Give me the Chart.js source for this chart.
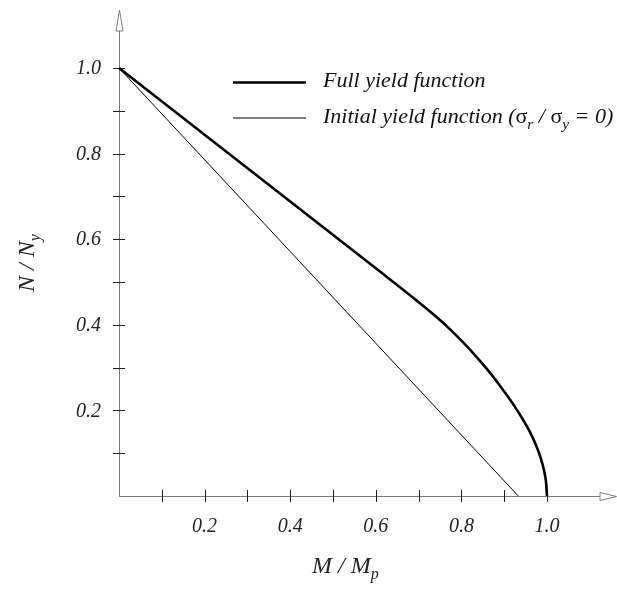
<!DOCTYPE html>
<html>
<head>
<meta charset="utf-8">
<title>Yield functions</title>
<script src="https://cdn.jsdelivr.net/npm/chart.js@4/dist/chart.umd.min.js"></script>
<style>
  html, body { margin: 0; padding: 0; background: #fff; }
  #wrap { width: 617px; height: 590px; }
</style>
</head>
<body>
<div id="wrap"><canvas id="chart" width="617" height="590"></canvas></div>
<script>
// --- Data ---

const fullM = [0, 0.2, 0.4, 0.6, 0.7, 0.74, 0.773, 0.803, 0.831, 0.857, 0.881, 0.903, 0.924, 0.943, 0.96, 0.974, 0.985, 0.993, 0.998, 1.0];
const fullN = [1.0, 0.844, 0.688, 0.532, 0.453, 0.42, 0.39, 0.36, 0.33, 0.30, 0.27, 0.24, 0.21, 0.18, 0.15, 0.12, 0.09, 0.06, 0.03, 0];

const initM = [0, 0.933];
const initN = [1.0, 0];

const tickValues = [0.1, 0.2, 0.3, 0.4, 0.5, 0.6, 0.7, 0.8, 0.9, 1.0];
const labelValues = [0.2, 0.4, 0.6, 0.8, 1.0];
const tickLabels = ["0.2", "0.4", "0.6", "0.8", "1.0"];

const seriesNames = ["Full yield function", "Initial yield function"];

const SERIF = '"Liberation Serif", "DejaVu Serif", serif';
const AXIS_GRAY = "#7a7a7a";

function $(id) {
  return document.getElementById(id);
}

function toPoints(xs, ys) {
  return xs.map((x, i) => ({ x: x, y: ys[i] }));
}

// draws pieces of text one after another; pieces can be subscripts
function drawRuns(ctx, runs, x, y) {
  runs.forEach(r => {
    ctx.font = r.font;
    ctx.fillText(r.text, x, y + (r.dy || 0));
    x += ctx.measureText(r.text).width;
  });
  return x;
}

// --- Axes, arrows, ticks ---

const axesPlugin = {
  id: "axesPlugin",
  beforeDatasetsDraw(chart) {
    const ctx = chart.ctx;
    const xs = chart.scales.x;
    const ys = chart.scales.y;
    const x0 = xs.getPixelForValue(0);
    const y0 = ys.getPixelForValue(0);
    const area = chart.chartArea;

    ctx.save();
    ctx.lineWidth = 1;
    ctx.strokeStyle = AXIS_GRAY;

    // axis lines
    ctx.beginPath();
    ctx.moveTo(x0 + 0.5, y0);
    ctx.lineTo(x0 + 0.5, area.top + 20);
    ctx.moveTo(x0, y0 + 0.5);
    ctx.lineTo(area.right - 16, y0 + 0.5);
    ctx.stroke();

    // open arrow heads
    ctx.fillStyle = "#fff";
    ctx.beginPath();
    ctx.moveTo(x0 + 0.5, area.top);
    ctx.lineTo(x0 + 4, area.top + 21);
    ctx.lineTo(x0 - 3, area.top + 21);
    ctx.closePath();
    ctx.fill();
    ctx.stroke();

    ctx.beginPath();
    ctx.moveTo(area.right - 0.5, y0 + 0.5);
    ctx.lineTo(area.right - 17, y0 + 4.5);
    ctx.lineTo(area.right - 17, y0 - 3.5);
    ctx.closePath();
    ctx.fill();
    ctx.stroke();

    // tick marks crossing the axes
    ctx.strokeStyle = "#222";
    ctx.beginPath();
    tickValues.forEach(v => {
      const px = Math.round(xs.getPixelForValue(v)) + 0.5;
      ctx.moveTo(px, y0 - 6);
      ctx.lineTo(px, y0 + 6);
      const py = Math.round(ys.getPixelForValue(v)) + 0.5;
      ctx.moveTo(x0 - 6, py);
      ctx.lineTo(x0 + 6, py);
    });
    ctx.stroke();
    ctx.restore();
  },

  afterDraw(chart) {
    const ctx = chart.ctx;
    const xs = chart.scales.x;
    const ys = chart.scales.y;
    const x0 = xs.getPixelForValue(0);
    const y0 = ys.getPixelForValue(0);

    ctx.save();
    ctx.fillStyle = "#222";
    ctx.font = `italic 20px ${SERIF}`;

    // tick labels
    ctx.textAlign = "center";
    ctx.textBaseline = "alphabetic";
    labelValues.forEach((v, i) => {
      ctx.fillText(tickLabels[i], xs.getPixelForValue(v), y0 + 36);
    });
    ctx.textAlign = "right";
    ctx.textBaseline = "middle";
    labelValues.forEach((v, i) => {
      ctx.fillText(tickLabels[i], x0 - 18, ys.getPixelForValue(v) + 1);
    });

    // axis titles
    ctx.textAlign = "left";
    ctx.textBaseline = "alphabetic";
    const big = `italic 24px ${SERIF}`;
    const small = `italic 16px ${SERIF}`;
    drawRuns(ctx, [
      { text: "M / M", font: big },
      { text: "p", font: small, dy: 6 }
    ], 312, 573);

    ctx.save();
    ctx.translate(34, 292);
    ctx.rotate(-Math.PI / 2);
    drawRuns(ctx, [
      { text: "N / N", font: big },
      { text: "y", font: small, dy: 6 }
    ], 0, 0);
    ctx.restore();

    // legend
    const ds = chart.data.datasets;
    const legendRows = [82.5, 118];
    legendRows.forEach((ly, i) => {
      ctx.strokeStyle = ds[i].borderColor;
      ctx.lineWidth = ds[i].borderWidth;
      ctx.beginPath();
      ctx.moveTo(233, ly);
      ctx.lineTo(306, ly);
      ctx.stroke();
    });

    // the legend lettering in the figure is a little wider than the font
    const txt = `italic 20px ${SERIF}`;
    const sym = `20px ${SERIF}`;
    const sub = `italic 14px ${SERIF}`;
    ctx.fillStyle = "#111";
    ctx.save();
    ctx.translate(323, 0);
    ctx.scale(1.1, 1);
    drawRuns(ctx, [{ text: ds[0].label, font: txt }], 0, 87);
    drawRuns(ctx, [
      { text: ds[1].label + " (", font: txt },
      { text: "\u03c3", font: sym },
      { text: "r", font: sub, dy: 6 },
      { text: " / ", font: txt },
      { text: "\u03c3", font: sym },
      { text: "y", font: sub, dy: 6 },
      { text: " = 0)", font: txt }
    ], 0, 122.5);
    ctx.restore();

    ctx.restore();
  }
};

// --- Chart ---

function initChart() {
  const ctx = $("chart").getContext("2d");
  new Chart(ctx, {
    type: "scatter",
    data: {
      datasets: [
        {
          label: seriesNames[0],
          data: toPoints(fullM, fullN),
          showLine: true,
          borderColor: "#000",
          borderWidth: 2.6,
          pointRadius: 0,
          cubicInterpolationMode: "monotone",
          clip: false
        },
        {
          label: seriesNames[1],
          data: toPoints(initM, initN),
          showLine: true,
          borderColor: "#000",
          borderWidth: 1,
          pointRadius: 0,
          clip: false
        }
      ]
    },
    options: {
      responsive: false,
      animation: false,
      layout: { padding: { left: 119, right: 0, top: 10, bottom: 94 } },
      plugins: {
        legend: { display: false },
        tooltip: { enabled: false }
      },
      scales: {
        x: { type: "linear", min: 0, max: 1.1636, display: false },
        y: { type: "linear", min: 0, max: 1.1355, display: false }
      }
    },
    plugins: [axesPlugin]
  });
}

window.addEventListener("DOMContentLoaded", initChart);
</script>
</body>
</html>
